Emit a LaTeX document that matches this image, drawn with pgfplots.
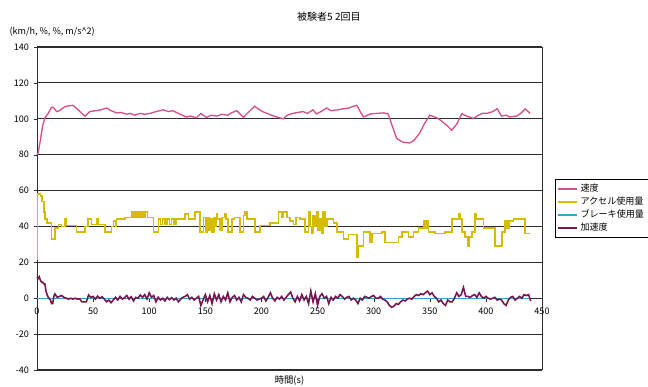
\documentclass[border=0pt]{standalone}
\usepackage{fontspec}
\setmainfont{Noto Sans CJK JP}
\usepackage{pgfplots}
\pgfplotsset{compat=1.18}
\definecolor{speedc}{RGB}{214,80,140}
\definecolor{pedalc}{RGB}{214,188,0}
\definecolor{brakec}{RGB}{46,168,204}
\definecolor{accc}{RGB}{120,22,82}
\definecolor{gridc}{RGB}{45,45,45}
\begin{document}
\begin{tikzpicture}
\begin{axis}[
  scale only axis,
  width=378.75pt, height=242.25pt,
  xmin=0, xmax=450, ymin=-40, ymax=140,
  axis x line*=middle, axis y line*=box,
  hide obscured x ticks=false, hide obscured y ticks=false,
  axis line style={gridc, line width=0.6pt},
  xtick={0,50,...,450}, ytick={-40,-20,...,140},
  ymajorgrids, grid style={gridc, line width=0.8pt},
  tick align=outside, major tick length=2.5pt,
  tick style={gridc},
  ytick pos=left,
  /pgf/number format/assume math mode=true,
  ticklabel style={font=\fontsize{6.8}{8}\selectfont},
  xticklabel style={yshift=-1pt},
  clip=false,
  legend style={at={(1.026,0.5)}, anchor=west, draw=black, line width=0.6pt,
    font=\fontsize{6.8}{8}\selectfont, inner sep=1.5pt, row sep=-1.5pt,
    legend cell align=left},
  legend image code/.code={\draw[#1, line width=1pt] (0cm,0cm) -- (0.5cm,0cm);},
]
\addplot[speedc, line width=1pt] coordinates {
(0,80) (1,81) (3,88) (5,96) (7,100.5) (10,103) (13,106.5) (15,106) (17.5,104) (20,104.5) (23,106) (26,107) (32,107.5) (35,106) (40,103) (43,101.5) (47,104) (52,104.5) (57,105) (62,106) (66,104.5) (71,103.3) (75,103.5) (80,102.5) (83,103) (87,102) (92,103) (96,102.5) (100.7,103) (106,104) (112.6,105) (117,104) (121,104.5) (126,103) (133,101) (137,101.5) (142,100.5) (146,103) (151,100.7) (155,102) (160,101.5) (165,102.5) (170,102) (174,103.5) (178,104.5) (184,100.8) (189,104) (194,107) (197,105.5) (201,104) (207,102.5) (213.5,101) (219.5,100) (223,102) (228,103) (232,103.5) (237,104) (241,103) (246,105) (249,102.7) (253,104) (258,106) (262,104.5) (268,105) (273,105.6) (278,106) (282,107) (285,107.5) (288,104) (291,101) (297,102.7) (303,103) (309,103.3) (313,102.6) (316,97) (320.5,89) (326,87) (332,86.5) (336,88) (341,92) (345,97) (350,102) (356,100.6) (360,99) (365,96.5) (369.5,93.6) (374,97) (378.5,102.8) (383,101.5) (389,100.2) (392,101.5) (396.5,103) (401,103) (406,104) (410,105.6) (414,101.5) (418,102) (421,101) (427.5,101.5) (431,103) (435,105.5) (439.5,103)
};
\addlegendentry{速度}
\addplot[pedalc, line width=1.2pt, const plot] coordinates {
(0,22) (0.5,58) (3,57) (4.2,54) (6,48) (7.1,44) (9,42) (13,33) (16,39) (19,41) (22,40) (25,44) (26,40.5) (35.3,37) (42.8,40) (45.7,44) (48.7,41) (53.2,44) (54.7,41) (60.6,37) (66.5,40) (68,43) (70,40) (71,44) (78.4,45) (84.4,48) (86,45) (87.5,48) (89,45) (90.5,48) (92,45) (93.5,48) (95,45) (96.5,48) (98.5,45) (100.7,45) (103.7,37) (108.1,44) (110,41) (112,44) (114,41) (116,44) (118,41) (120,44) (122,41) (124,44) (126,44) (131.9,47) (134.9,44) (140.8,48) (145.3,37) (148.3,45) (150,37) (151.5,45) (153,38) (154.5,44) (156,37) (157.5,45) (159,40) (160.1,47) (161,44) (163.1,38) (165,45) (167.5,47) (168.5,44) (170,37) (173.5,44) (176,45) (181,37) (183.9,46) (185.5,48) (187,44) (194.3,37) (198.8,40.5) (207.7,42) (215.1,48) (218,45) (219,48) (221.1,48) (223,45) (225.5,43) (228.5,41) (231,45) (234.4,44) (238.9,37) (241.9,48) (243,40) (244.5,36) (246,46) (247.8,40) (249,48) (250.5,38) (252,44) (253.5,36) (255,48) (256.5,40) (258.2,44) (264.1,42) (267.1,37) (273,33) (277.5,35.5) (284,35.5) (284.9,23) (286.4,29) (290.9,37) (296.8,31) (298.3,36) (307.2,37) (310.2,31) (322,34) (325,37) (331,34) (335.4,37) (339.9,39) (344.4,43) (346,39) (347.5,43) (348.8,37) (354.8,36) (363.7,37) (369.6,44) (376,47) (377.5,44) (378.5,37) (381.5,34) (384,29) (385,34) (387.5,37) (390.4,47) (391.5,44) (397.9,39) (408.3,29) (414.2,37) (417.2,43) (419,39) (420.5,43) (424.6,44) (435,36) (439,36)
};
\addlegendentry{アクセル使用量}
\addplot[brakec, line width=1pt] coordinates {(0,0) (440,0)};
\addlegendentry{ブレーキ使用量}
\addplot[accc, line width=1.2pt] coordinates {
(0,12) (1,11) (2,12) (3,10) (4,9) (5,9) (6,8) (7,8) (8,4) (9,2) (10,0.5) (12,-1) (13,-3) (14,-3) (15,1) (16,2.4) (18,0.5) (20,1) (22,1.5) (24,0.5) (26,0) (28,-0.5) (30,0) (32,-0.5) (34,0) (36,-0.5) (38,-0.3) (40,-2) (42,-2) (44,-2) (46,1.8) (48,0.5) (50,1) (52,-0.5) (54,1.2) (56,0) (58,0.8) (60,-0.5) (62,-2) (64,-1) (66,-2.5) (68,-1) (70,0.5) (72,-1) (74,1) (76,-0.5) (78,0.3) (80,1.5) (82,-0.5) (84,0.8) (86,-1.5) (88,0.5) (90,0) (92,1.8) (94,0.5) (96,2) (98,-0.5) (100,3) (102,0.5) (104,1.5) (106,-2) (108,0.5) (110,-1) (112,0) (114,-1.5) (116,0.5) (118,-0.8) (120,0.3) (122,-1) (124,0) (126,-2) (128,-0.5) (130,0.5) (132,1) (134,2) (136,-0.5) (138,0.5) (140,-1) (142,0) (144,1) (146,-4) (148,-1) (150,2) (152,-2) (154,1.5) (156,-3) (158,2.5) (160,-1) (162,2) (164,-2) (166,1) (168,-1) (170,3) (172,-2) (174,0.5) (176,1.5) (178,-1) (180,0.5) (182,-2) (184,2) (186,0.5) (188,0) (190,-1) (192,1) (194,0) (196,-1) (198,-0.5) (200,0) (202,1) (204,-1.5) (206,0.5) (208,3) (210,0) (212,-1.5) (214,0.5) (216,-0.5) (218,1) (220,-1) (222,0.5) (224,2) (226,3.5) (228,0) (230,-2) (232,1) (234,-1.5) (236,2) (238,-1) (240,1) (242,-3) (244,4) (246,-2) (248,2.5) (250,-4) (252,1) (254,2.5) (256,0) (258,1) (260,-3) (262,0.5) (264,-1) (266,1) (268,0) (270,2) (272,1) (274,-0.5) (276,0.5) (278,1) (280,-1) (282,0) (284,-1) (286,-3) (288,0) (290,-1) (292,1) (294,0.5) (296,0) (298,1) (300,1.5) (302,0) (304,0) (306,1) (308,-0.5) (310,-1) (312,-2) (314,-4) (316,-5) (318,-4.5) (320,-3) (322,-3.5) (324,-2) (326,-1) (328,-1.5) (330,-0.5) (332,0) (334,-0.5) (336,1) (338,2) (340,1.5) (342,2.5) (344,2) (346,3) (348,4) (350,2) (352,3) (354,1) (356,0) (358,-2) (360,-1) (362,-3) (364,-4) (366,-1) (368,-2) (370,-2) (372,0) (374,3) (376,1) (378,2) (380,6) (382,1) (384,1) (386,0.5) (388,1.5) (390,2) (392,0.5) (394,3) (396,1) (398,0) (400,1) (402,0) (404,-0.5) (406,0) (408,0.5) (410,-1) (412,-0.5) (414,-1) (416,-3) (418,-4) (420,-1) (422,0.5) (424,1) (426,-1) (428,0) (430,1) (432,0) (434,2) (436,1.5) (438,2) (440,-1.5)
};
\addlegendentry{加速度}
\node[font=\fontsize{7.5}{9}\selectfont] at (rel axis cs:0.578,1.093) {被験者5\ 2回目};
\node[font=\fontsize{6.8}{8}\selectfont] at (rel axis cs:0.03,1.046) {(km/h, \%, \%, m/s\textasciicircum 2)};
\node[font=\fontsize{7}{8}\selectfont] at (rel axis cs:0.5,-0.031) {時間(s)};
\coordinate (bl) at (rel axis cs:0,0);
\coordinate (tr) at (rel axis cs:1,1);
\end{axis}
\pgfresetboundingbox
\path ([xshift=-27.75pt,yshift=-12pt]bl) rectangle ([xshift=79.5pt,yshift=35.25pt]tr);
\end{tikzpicture}
\end{document}
